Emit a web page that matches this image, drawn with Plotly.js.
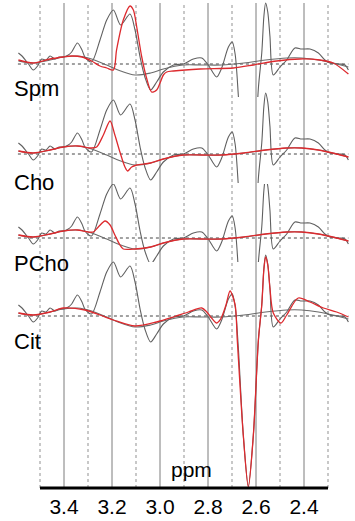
<!DOCTYPE html>
<html>
<head>
<meta charset="utf-8">
<script src="https://cdn.plot.ly/plotly-3.0.1.min.js"></script>
<style>html,body{margin:0;padding:0;background:#fff;}#chart{width:355px;height:521px;}</style>
</head>
<body>
<div id="chart"></div>
<script>
// ---- data (offsets above each panel's baseline) ----
const panelNames = ["Spm", "Cho", "PCho", "Cit"];
const tickVals = [3.4, 3.2, 3.0, 2.8, 2.6, 2.4];
const tickText = ["3.4", "3.2", "3.0", "2.8", "2.6", "2.4"];

// measured spectrum (grey), identical in every panel
const ppmGray = [3.590,3.575,3.548,3.528,3.510,3.493,3.475,3.458,3.438,3.420,3.403,3.382,3.368,3.344,3.325,3.313,3.285,3.250,3.222,3.194,3.164,3.125,3.104,3.083,3.063,3.039,3.014,2.986,2.944,2.903,2.861,2.826,2.799,2.764,2.743,2.715,2.699,2.687,2.674,2.653,2.632,2.611,2.590,2.576,2.567,2.560,2.551,2.542,2.528,2.500,2.472,2.438,2.410,2.375,2.340,2.313,2.292,2.250,2.229,2.215];
const grayVals = [11,8,0,-6,-2,5,4,8,5,7,7,9,12,21,14,7,2,24,44,54,39,50,34,7,-13,-26,-18,-8,-1,0,5,6,-1,-13,-4,17,22,10,-30,-119,-170,-119,-24,11,48,61,52,28,-11,-3,4,16,15,15,11,4,1,0,-1,-6];

// smooth baseline (grey)
const ppmBase = [3.590,3.528,3.458,3.403,3.344,3.285,3.222,3.164,3.104,3.039,2.986,2.903,2.826,2.743,2.650,2.560,2.472,2.410,2.340,2.264,2.215];
const baseVals = [3,1,4,7,8,5,-1,-7,-11,-9,-5,-1,-1,-1,1,4,6,6,4,0,-3];

// fitted curves (red)
const ppmSpm = [3.590,3.528,3.458,3.403,3.368,3.325,3.285,3.250,3.222,3.194,3.181,3.153,3.125,3.111,3.097,3.076,3.056,3.035,3.014,3.000,2.986,2.972,2.944,2.833,2.694,2.611,2.514,2.417,2.333,2.278,2.215];
const spmFit = [4,1,5,7,8,7,3,-2,-4,-6,14,44,58,54,37,7,-14,-28,-26,-19,-11,-8,-7,-5,-4,-1,3,5,4,1,-10];

const ppmCho = [3.590,3.528,3.458,3.403,3.344,3.285,3.264,3.236,3.208,3.188,3.167,3.146,3.135,3.118,3.097,3.039,2.986,2.903,2.826,2.743,2.650,2.560,2.472,2.410,2.340,2.264,2.215];
const choFit = [3,1,4,7,8,6,7,19,33,19,2,-13,-17,-13,-11,-9,-5,-1,-1,-1,1,4,6,6,4,0,-3];

const ppmPCho = [3.590,3.528,3.458,3.403,3.344,3.300,3.278,3.257,3.229,3.208,3.188,3.167,3.153,3.104,3.039,2.986,2.903,2.826,2.743,2.650,2.560,2.472,2.410,2.340,2.264,2.215];
const pchoFit = [3,1,4,7,8,6,6,11,17,13,3,-7,-11,-11,-9,-5,-1,-1,-1,1,4,6,6,4,0,-3];

const ppmCit = [3.590,3.528,3.458,3.403,3.313,3.250,3.194,3.104,3.014,2.944,2.882,2.826,2.805,2.785,2.764,2.750,2.743,2.725,2.708,2.687,2.678,2.653,2.632,2.611,2.590,2.576,2.567,2.560,2.551,2.542,2.528,2.496,2.472,2.424,2.375,2.319,2.264,2.215];
const citFit = [3,1,4,8,6,1,-4,-10,-6,-1,4,8,4,-2,-7,-4,-1,11,25,11,-24,-119,-171,-119,-24,11,47,59,51,28,3,-7,1,18,14,8,4,-1];

const fitX = [ppmSpm, ppmCho, ppmPCho, ppmCit];
const fitY = [spmFit, choFit, pchoFit, citFit];

// ---- layout geometry (pixels) ----
const W = 355, H = 521, mL = 16, mR = 3, mT = 0, mB = 33;
const plotH = H - mT - mB;              // 488
const bands = [[0, 97, 64], [90, 183, 154], [184, 262, 238], [254, 488, 316]]; // top, bottom, baseline
const font = "Liberation Sans, Arial, Helvetica, sans-serif";
const pY = px => (plotH - px) / plotH;

const traces = [];
const layout = {
  width: W, height: H,
  margin: {l: mL, r: mR, t: mT, b: mB, pad: 0},
  paper_bgcolor: "#ffffff", plot_bgcolor: "rgba(0,0,0,0)",
  showlegend: false,
  xaxis: {
    range: [3.6, 2.2], tickvals: tickVals, ticktext: tickText,
    anchor: "free", position: 0, ticklabelstandoff: 4,
    showgrid: false, zeroline: false, showline: false, ticks: "",
    tickfont: {family: font, size: 21, color: "#000"}, fixedrange: true
  },
  shapes: [], annotations: []
};

bands.forEach((b, i) => {
  const key = i === 0 ? "yaxis" : "yaxis" + (i + 1);
  const ref = i === 0 ? "y" : "y" + (i + 1);
  layout[key] = {
    domain: [pY(b[1]), pY(b[0])],
    range: [b[2] - b[1], b[2] - b[0]],
    visible: false, showgrid: false, zeroline: false, fixedrange: true
  };
  traces.push({x: ppmGray, y: grayVals, yaxis: ref, type: "scatter", mode: "lines",
    line: {color: "#606060", width: 1.1, shape: "spline", smoothing: 0.8}, hoverinfo: "skip"});
  traces.push({x: ppmBase, y: baseVals, yaxis: ref, type: "scatter", mode: "lines",
    line: {color: "#6a6a6a", width: 1.1, shape: "spline", smoothing: 1}, hoverinfo: "skip"});
  traces.push({x: fitX[i], y: fitY[i], yaxis: ref, type: "scatter", mode: "lines", name: panelNames[i],
    line: {color: "#dd2a2e", width: 1.3, shape: "spline", smoothing: 0.8}, hoverinfo: "skip"});
  // dotted baseline
  layout.shapes.push({type: "line", xref: "x", yref: ref, x0: 3.592, x1: 2.215, y0: 0, y1: 0,
    line: {color: "#444", width: 1, dash: "dot"}, layer: "below"});
});

// vertical grid lines
for (let k = 0; k <= 12; k++) {
  const v = +(3.5 - k * 0.1).toFixed(1);
  const solid = k % 2 === 1;
  layout.shapes.push({type: "line", xref: "x", yref: "paper", x0: v, x1: v, y0: 0, y1: pY(3),
    line: {color: solid ? "#7c7c7c" : "#919191", width: 1, dash: solid ? "solid" : "dot"}, layer: "below"});
}
// thick axis line
layout.shapes.push({type: "line", xref: "x", yref: "paper", x0: 3.5, x1: 2.3, y0: 0, y1: 0,
  line: {color: "#000", width: 3}});

// panel labels
const labelY = [89, 182, 263, 341];
panelNames.forEach((n, i) => {
  layout.annotations.push({text: n, xref: "paper", yref: "paper", x: (12 - mL) / (W - mL - mR), y: pY(labelY[i]),
    xanchor: "left", yanchor: "middle", showarrow: false, font: {family: font, size: 22, color: "#000"}});
});
layout.annotations.push({text: "ppm", xref: "paper", yref: "paper", x: (191 - mL) / (W - mL - mR), y: pY(469),
  xanchor: "center", yanchor: "middle", showarrow: false, font: {family: font, size: 21, color: "#000"}});

Plotly.newPlot("chart", traces, layout, {staticPlot: true, displayModeBar: false});
</script>
</body>
</html>
